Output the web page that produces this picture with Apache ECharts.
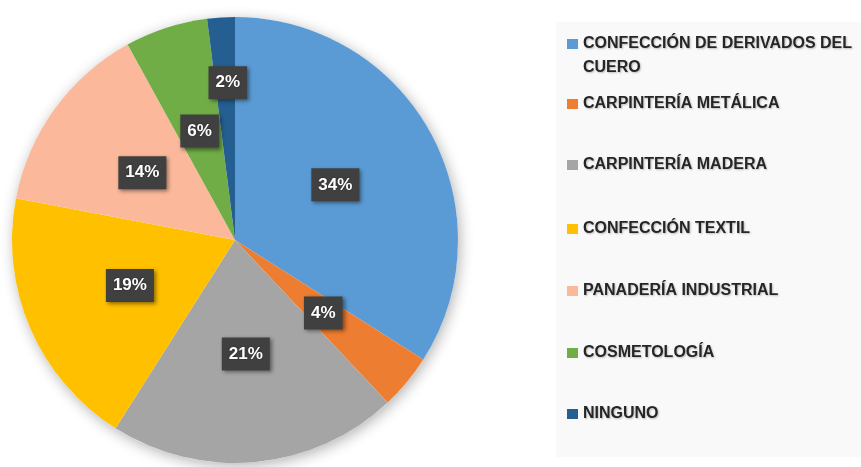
<!DOCTYPE html>
<html>
<head>
<meta charset="utf-8">
<script src="https://cdn.jsdelivr.net/npm/echarts@6/dist/echarts.min.js"></script>
<style>
  html, body { margin: 0; padding: 0; background: #fff; }
  #myChart { width: 861px; height: 467px; }
</style>
</head>
<body>
<div id="myChart"></div>
<script>
// datos del gráfico
var categorias = [
  'CONFECCIÓN DE DERIVADOS DEL CUERO',
  'CARPINTERÍA METÁLICA',
  'CARPINTERÍA MADERA',
  'CONFECCIÓN TEXTIL',
  'PANADERÍA INDUSTRIAL',
  'COSMETOLOGÍA',
  'NINGUNO'
];
var porcentajes = [34, 4, 21, 19, 14, 6, 2];
var colores = ['#5B9BD5', '#ED7D31', '#A5A5A5', '#FFC000', '#FBB89B', '#70AD47', '#255E91'];

// posición vertical de cada entrada de la leyenda
var leyendaTop = [8, 92, 153, 217, 279, 341, 402];

var chart = echarts.init(document.getElementById('myChart'));

var legendas = categorias.map(function (name, i) {
  return {
    data: [name],
    left: 567,
    top: leyendaTop[i],
    padding: 0,
    orient: 'vertical',
    icon: 'rect',
    itemWidth: 11,
    itemHeight: 10,
    itemGap: 4,
    selectedMode: false,
    formatter: function (n) {
      // línea vacía arriba para que el icono quede junto a la primera línea
      return n === 'CONFECCIÓN DE DERIVADOS DEL CUERO' ? ' \nCONFECCIÓN DE DERIVADOS DEL\nCUERO' : n;
    },
    textStyle: {
      color: '#262626',
      fontFamily: 'Liberation Sans',
      fontWeight: 'bold',
      fontSize: 16,
      lineHeight: 24,
      textShadowColor: 'rgba(0,0,0,0.25)',
      textShadowBlur: 2,
      textShadowOffsetX: 1,
      textShadowOffsetY: 1
    }
  };
});

chart.setOption({
  animation: false,
  color: colores,
  graphic: [{
    type: 'rect',
    left: 556,
    top: 22,
    z: -10,
    shape: { width: 305, height: 435 },
    style: { fill: '#f9f9f9' }
  }],
  legend: legendas,
  series: [
    {
      // sombra del círculo
      type: 'pie',
      silent: true,
      center: [235, 240],
      radius: 223,
      z: 1,
      label: { show: false },
      itemStyle: {
        color: '#fff',
        shadowBlur: 14,
        shadowColor: 'rgba(0,0,0,0.3)',
        shadowOffsetX: 2,
        shadowOffsetY: 3
      },
      data: [{ name: '_sombra', value: 1 }]
    },
    {
      type: 'pie',
      center: [235, 240],
      radius: 223,
      startAngle: 90,
      clockwise: true,
      z: 2,
      itemStyle: { borderWidth: 0 },
      label: {
        show: true,
        position: 'inside',
        formatter: '{c}%',
        color: '#fff',
        fontFamily: 'Liberation Sans',
        fontWeight: 'bold',
        fontSize: 17,
        lineHeight: 21,
        backgroundColor: '#404040',
        padding: [6, 7],
        shadowColor: 'rgba(0,0,0,0.45)',
        shadowBlur: 4,
        shadowOffsetX: 2,
        shadowOffsetY: 2,
        textShadowColor: 'rgba(0,0,0,0.4)',
        textShadowBlur: 2
      },
      labelLayout: function (params) {
        if (params.dataIndex === 6) {
          return { dy: -43 };
        }
        return {};
      },
      emphasis: { disabled: true },
      data: categorias.map(function (name, i) {
        return { name: name, value: porcentajes[i] };
      })
    }
  ]
});

window.addEventListener('resize', function () {
  chart.resize();
});
</script>
</body>
</html>
